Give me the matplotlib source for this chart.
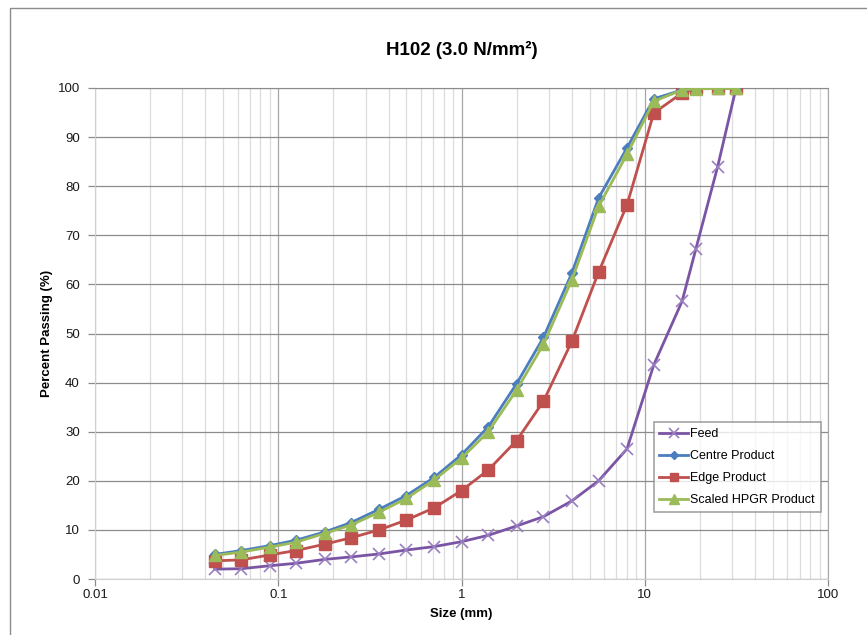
import matplotlib
matplotlib.use("Agg")
import matplotlib.pyplot as plt
from matplotlib.ticker import LogLocator, FixedLocator, NullFormatter
from matplotlib.patches import Rectangle

plt.rcParams['font.family'] = ['Liberation Sans', 'DejaVu Sans']

# Sieve sizes (mm)
sizes = [0.045, 0.063, 0.09, 0.125, 0.18, 0.25, 0.355, 0.5, 0.71, 1.0,
         1.4, 2.0, 2.8, 4.0, 5.6, 8.0, 11.2, 16.0, 19.0, 25.0, 31.5]

# Cumulative percent passing
feed = [2.0, 2.1, 2.7, 3.2, 4.0, 4.5, 5.1, 5.9, 6.6, 7.6,
        8.9, 10.8, 12.7, 15.9, 20.0, 26.5, 43.6, 56.6, 67.2, 84.0, 100.0]
centre = [5.0, 5.8, 6.8, 7.9, 9.6, 11.5, 14.2, 17.0, 20.7, 25.3,
          31.0, 39.8, 49.2, 62.3, 77.6, 87.8, 97.8, 99.6, 100.0, 100.0, 100.0]
edge = [3.7, 3.9, 4.9, 5.8, 7.1, 8.4, 10.0, 12.0, 14.5, 18.0,
        22.2, 28.2, 36.2, 48.4, 62.5, 76.2, 94.9, 99.0, 99.9, 100.0, 100.0]
scaled = [4.8, 5.5, 6.5, 7.5, 9.3, 11.0, 13.6, 16.4, 20.2, 24.6,
          30.0, 38.5, 47.8, 60.9, 75.9, 86.5, 97.3, 99.6, 99.8, 99.9, 99.9]

fig = plt.figure(figsize=(8.67, 6.35), dpi=100)
W, H = 867, 635
ax = fig.add_axes([95 / W, (H - 579) / H, (828 - 95) / W, (579 - 88) / H])

# Outer chart border
fig.patches.append(Rectangle((10 / W, -0.05), 1.2, (H - 8) / H + 0.05,
                             transform=fig.transFigure, fill=False,
                             edgecolor='#8c8c8c', linewidth=1.0))

ax.plot(sizes, feed, color='#7b55a5', lw=2, marker='x', ms=9, mew=1.2,
        mec='#9a7fc0', label='Feed', zorder=3)
ax.plot(sizes, centre, color='#4a7ebf', lw=2, marker='D', ms=5,
        label='Centre Product', zorder=4)
ax.plot(sizes, edge, color='#c0504d', lw=2, marker='s', ms=8,
        label='Edge Product', zorder=3)
ax.plot(sizes, scaled, color='#9bbb59', lw=2, marker='^', ms=9,
        label='Scaled HPGR Product', zorder=5)

ax.set_xscale('log')
ax.set_xlim(0.01, 100)
ax.set_ylim(0, 100)
ax.xaxis.set_major_locator(FixedLocator([0.01, 0.1, 1, 10, 100]))
ax.set_xticklabels(['0.01', '0.1', '1', '10', '100'])
ax.xaxis.set_minor_locator(LogLocator(base=10, subs=range(2, 10)))
ax.xaxis.set_minor_formatter(NullFormatter())
ax.set_yticks(range(0, 101, 10))

ax.grid(True, which='major', axis='y', color='#8c8c8c', lw=0.9)
ax.grid(True, which='major', axis='x', color='#a6a6a6', lw=0.9)
ax.grid(True, which='minor', axis='x', color='#dcdcdc', lw=0.9)
ax.set_axisbelow(True)

for side in ('left', 'bottom'):
    ax.spines[side].set_color('#d0d0d0')
ax.spines['top'].set_color('#8c8c8c')
ax.spines['right'].set_color('#a6a6a6')
ax.tick_params(axis='both', which='major', labelsize=9.5, color='#8c8c8c',
               length=5, width=0.9, labelcolor='#1a1a1a')
ax.tick_params(axis='x', which='minor', length=0)
ax.tick_params(axis='y', pad=6)
ax.tick_params(axis='x', pad=2)

ax.set_xlabel('Size (mm)', fontsize=9.5, fontweight='bold', labelpad=5)
ax.set_ylabel('Percent Passing (%)', fontsize=9.5, fontweight='bold', labelpad=3)
ax.set_title('H102 (3.0 N/mm\u00b2)', fontsize=13.5, fontweight='bold', pad=24)

leg = ax.legend(loc='lower right', bbox_to_anchor=(0.99, 0.137), fontsize=9,
                frameon=True, fancybox=False, edgecolor='#8c8c8c',
                handlelength=2.3, borderpad=0.45, labelspacing=0.8,
                handletextpad=0.2, borderaxespad=0, markerscale=0.8)
leg.get_frame().set_linewidth(1.2)

fig.savefig('out.png', dpi=100)
